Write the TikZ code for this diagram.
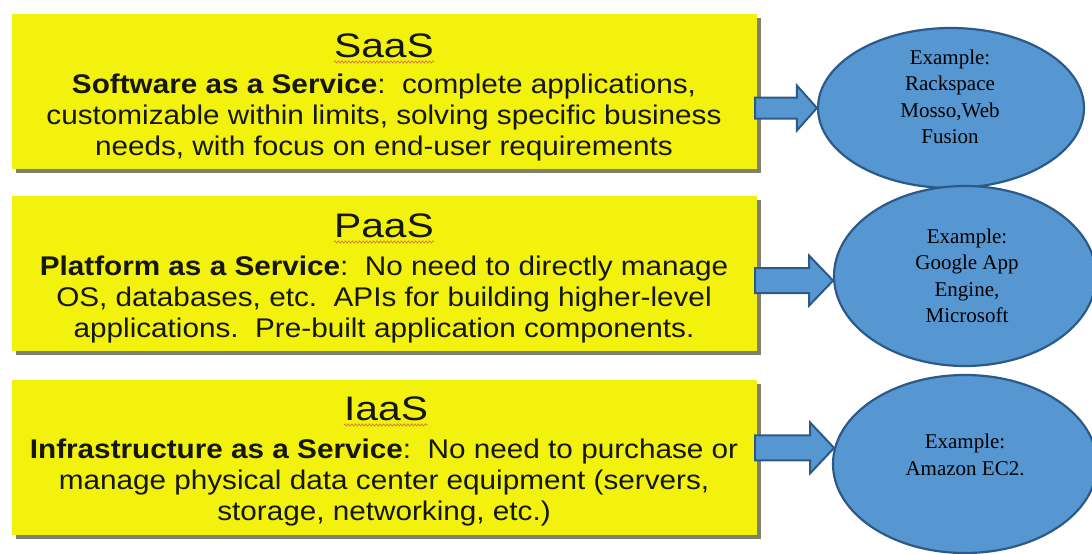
\documentclass[tikz,border=0pt]{standalone}
\usepackage{fontspec}
\usetikzlibrary{shapes.geometric,calc,decorations.pathmorphing}

\newfontfamily\boxfont[FakeStretch=1.1]{Liberation Sans}
\newfontfamily\titlefont[FakeStretch=1.2]{Liberation Sans}
\newfontfamily\exfont{Liberation Serif}

\definecolor{layeryellow}{RGB}{242,242,12}
\definecolor{layershadow}{RGB}{128,128,112}
\definecolor{bubblefill}{RGB}{86,151,210}
\definecolor{bubbleline}{RGB}{44,90,136}
\definecolor{squiggle}{RGB}{214,120,70}
\definecolor{layerink}{RGB}{22,22,18}

\tikzset{
  layerbox/.style={rectangle, fill=layeryellow, inner sep=0pt,
    minimum width=745pt, minimum height=155pt},
  layershade/.style={fill=layershadow},
  layertitle/.style={inner sep=0pt, anchor=base, text=layerink,
    font=\titlefont\fontsize{34}{40}\selectfont},
  layertext/.style={inner sep=0pt, align=center, text=layerink,
    font=\boxfont\fontsize{27}{31}\selectfont},
  spellmark/.style={draw=squiggle, line width=0.7pt,
    decorate, decoration={snake, amplitude=1.1pt, segment length=3.5pt}},
  exbubble/.style={ellipse, fill=bubblefill, draw=bubbleline,
    line width=2.2pt, inner sep=0pt},
  extext/.style={inner sep=0pt, align=center,
    font=\exfont\fontsize{21}{26.5}\selectfont},
  layerarrow/.style={draw=bubbleline, fill=bubblefill, line width=2pt,
    line join=miter}
}

% block arrow from the right side of a box to a point on a bubble
% #1 box, #2 tip point, #3 half shaft, #4 half head, #5 head length
\newcommand{\blockarrow}[5]{%
  \draw[layerarrow] let \p1=(#1.east), \p2=(#2) in
    (\x1-2pt,\y2+#3) -- (\x2-#5,\y2+#3) -- (\x2-#5,\y2+#4) -- (\x2,\y2)
    -- (\x2-#5,\y2-#4) -- (\x2-#5,\y2-#3) -- (\x1-2pt,\y2-#3) -- cycle;}

\begin{document}
\begin{tikzpicture}[x=1pt, y=-1pt]
\useasboundingbox (0,0) rectangle (1092,554);
\clip (0,0) rectangle (1092,554);

% layer boxes with drop shadows
\foreach \cy in {91,273,457}
  \fill[layershade] (16,\cy-73.5) rectangle (761,\cy+81.5);
\node[layerbox] (b1) at (384.5,91) {};
\node[layerbox] (b2) at (384.5,273) {};
\node[layerbox] (b3) at (384.5,457) {};

% SaaS
\node[layertitle] (s1) at (384,57) {SaaS};
\draw[spellmark] ([yshift=-5pt]s1.base west) -- ([yshift=-5pt]s1.base east);
\node[layertext] (d1) at (384,118)
  {\textbf{Software as a Service}:\ \ complete applications,\\
   customizable within limits, solving specific business\\
   needs, with focus on end-user requirements};

% PaaS
\node[layertitle] (s2) at (384,237) {PaaS};
\draw[spellmark] ([yshift=-5pt]s2.base west) -- ([yshift=-5pt]s2.base east);
\node[layertext] (d2) at (384,300)
  {\textbf{Platform as a Service}:\ \ No need to directly manage\\
   OS, databases, etc.\ \ APIs for building higher-level\\
   applications.\ \ Pre-built application components.};

% IaaS
\node[layertitle] (s3) at (386,420) {IaaS};
\draw[spellmark] ([yshift=-5pt]s3.base west) -- ([yshift=-5pt]s3.base east);
\node[layertext] (d3) at (384,483)
  {\textbf{Infrastructure as a Service}:\ \ No need to purchase or\\
   manage physical data center equipment (servers,\\
   storage, networking, etc.)};

% example bubbles
\node[exbubble, minimum width=266pt, minimum height=160pt] (e1) at (951,108) {};
\node[exbubble, minimum width=262pt, minimum height=180pt] (e2) at (965,276) {};
\node[exbubble, minimum width=264pt, minimum height=178pt] (e3) at (965,464) {};

\node[extext] (t1) at (950,97) {Example:\\Rackspace\\Mosso,Web\\Fusion};
\node[extext] (t2) at (967,276) {Example:\\Google App\\Engine,\\Microsoft};
\node[extext] (t3) at (965,455) {Example:\\Amazon EC2.};

% arrows from each layer to its example
\blockarrow{b1}{e1.west}{10.5pt}{22.5pt}{20pt}
\blockarrow{b2}{e2.182}{12.5pt}{25pt}{24pt}
\blockarrow{b3}{e3.173}{12.5pt}{25.5pt}{24pt}
\end{tikzpicture}
\end{document}
